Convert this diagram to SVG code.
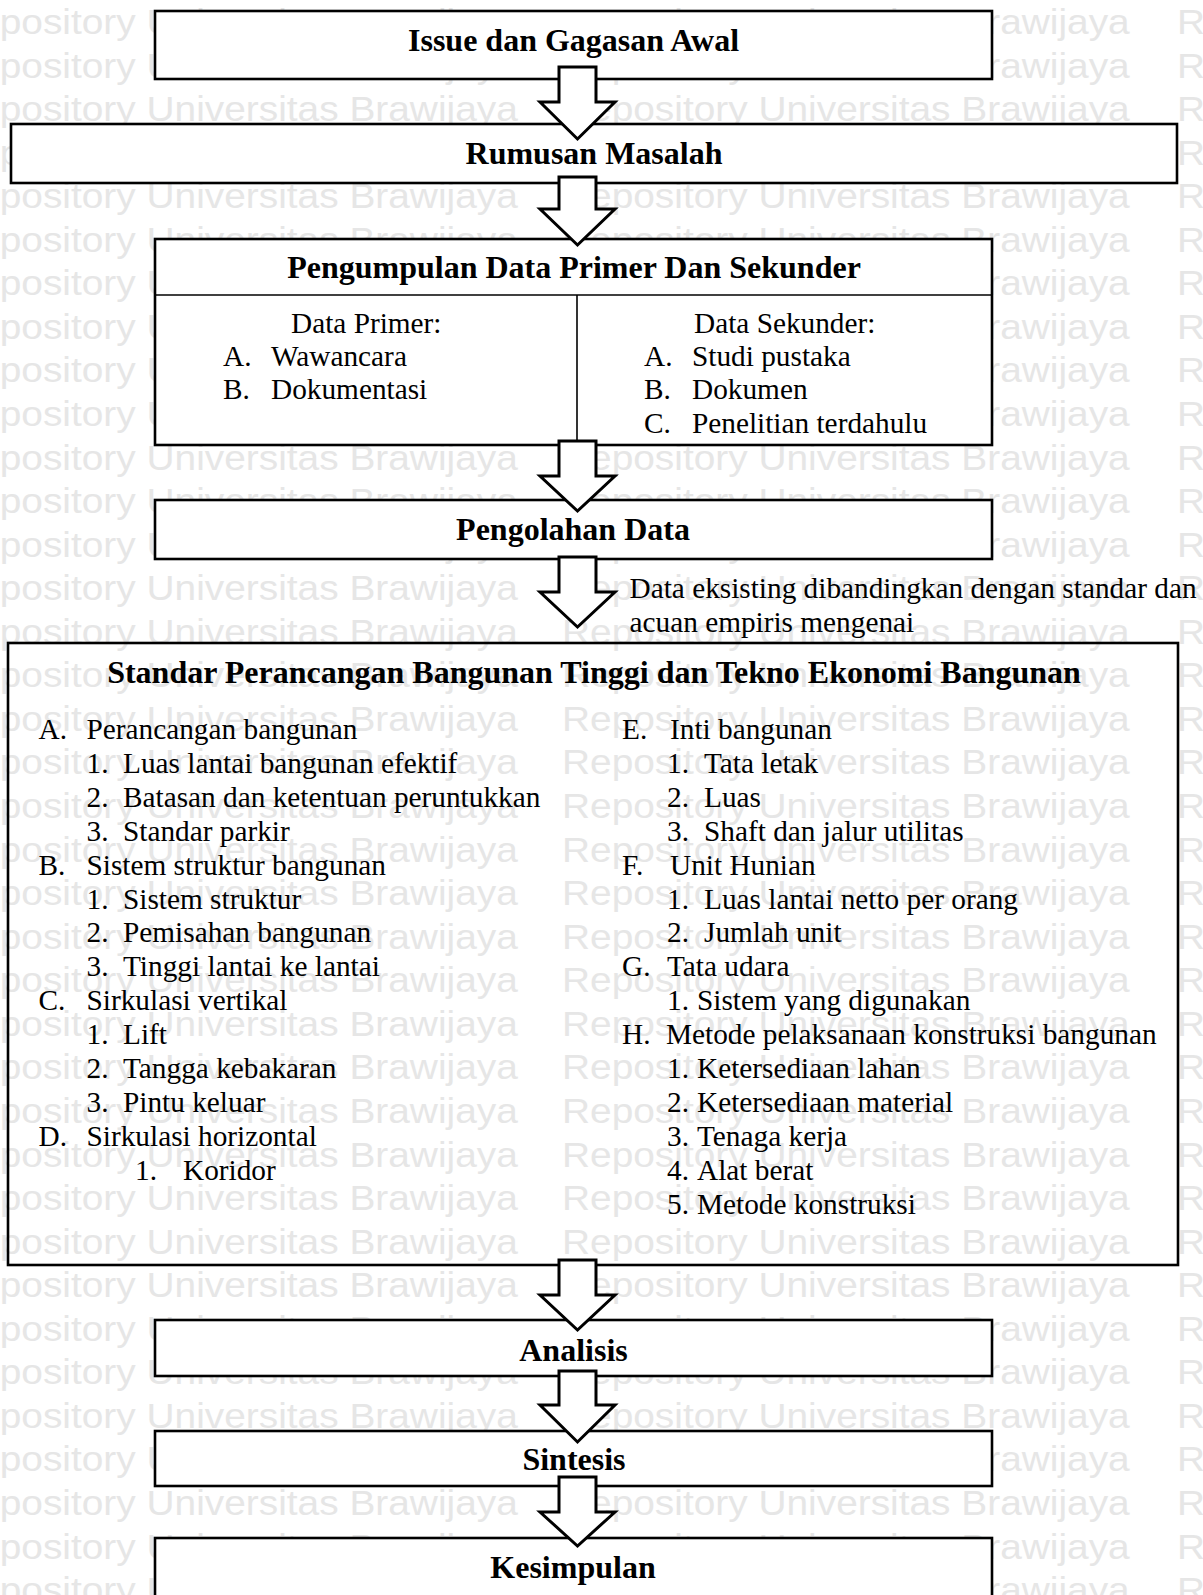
<svg xmlns="http://www.w3.org/2000/svg" width="1203" height="1595" viewBox="0 0 1203 1595">
<style>
.wm{fill:#e6e6e6;font-family:"Liberation Sans",Arial,sans-serif;font-size:35px}
.box{fill:#fff;stroke:#000;stroke-width:2.6}
.open{fill:none;stroke:#000;stroke-width:2.6}
.div{fill:none;stroke:#000;stroke-width:1.6}
.arr{fill:#fff;stroke:#000;stroke-width:3;stroke-linejoin:miter}
.h{font-family:"Liberation Serif","Times New Roman",serif;font-weight:bold;font-size:32px;text-anchor:middle;fill:#000}
.t{font-family:"Liberation Serif","Times New Roman",serif;font-size:29.3px;fill:#000}
</style>
<rect x="0" y="0" width="1203" height="1595" fill="#fff"/>
<g id="watermark" class="wm" transform="scale(1.11 1)">
<text y="34"><tspan x="-45">Repository Universitas Brawijaya</tspan><tspan x="506.3">Repository Universitas Brawijaya</tspan><tspan x="1060.4">Repository</tspan></text>
<text y="77.6"><tspan x="-45">Repository Universitas Brawijaya</tspan><tspan x="506.3">Repository Universitas Brawijaya</tspan><tspan x="1060.4">Repository</tspan></text>
<text y="121.1"><tspan x="-45">Repository Universitas Brawijaya</tspan><tspan x="506.3">Repository Universitas Brawijaya</tspan><tspan x="1060.4">Repository</tspan></text>
<text y="164.7"><tspan x="-45">Repository Universitas Brawijaya</tspan><tspan x="506.3">Repository Universitas Brawijaya</tspan><tspan x="1060.4">Repository</tspan></text>
<text y="208.2"><tspan x="-45">Repository Universitas Brawijaya</tspan><tspan x="506.3">Repository Universitas Brawijaya</tspan><tspan x="1060.4">Repository</tspan></text>
<text y="251.8"><tspan x="-45">Repository Universitas Brawijaya</tspan><tspan x="506.3">Repository Universitas Brawijaya</tspan><tspan x="1060.4">Repository</tspan></text>
<text y="295.4"><tspan x="-45">Repository Universitas Brawijaya</tspan><tspan x="506.3">Repository Universitas Brawijaya</tspan><tspan x="1060.4">Repository</tspan></text>
<text y="338.9"><tspan x="-45">Repository Universitas Brawijaya</tspan><tspan x="506.3">Repository Universitas Brawijaya</tspan><tspan x="1060.4">Repository</tspan></text>
<text y="382.5"><tspan x="-45">Repository Universitas Brawijaya</tspan><tspan x="506.3">Repository Universitas Brawijaya</tspan><tspan x="1060.4">Repository</tspan></text>
<text y="426"><tspan x="-45">Repository Universitas Brawijaya</tspan><tspan x="506.3">Repository Universitas Brawijaya</tspan><tspan x="1060.4">Repository</tspan></text>
<text y="469.6"><tspan x="-45">Repository Universitas Brawijaya</tspan><tspan x="506.3">Repository Universitas Brawijaya</tspan><tspan x="1060.4">Repository</tspan></text>
<text y="513.2"><tspan x="-45">Repository Universitas Brawijaya</tspan><tspan x="506.3">Repository Universitas Brawijaya</tspan><tspan x="1060.4">Repository</tspan></text>
<text y="556.7"><tspan x="-45">Repository Universitas Brawijaya</tspan><tspan x="506.3">Repository Universitas Brawijaya</tspan><tspan x="1060.4">Repository</tspan></text>
<text y="600.3"><tspan x="-45">Repository Universitas Brawijaya</tspan><tspan x="506.3">Repository Universitas Brawijaya</tspan><tspan x="1060.4">Repository</tspan></text>
<text y="643.8"><tspan x="-45">Repository Universitas Brawijaya</tspan><tspan x="506.3">Repository Universitas Brawijaya</tspan><tspan x="1060.4">Repository</tspan></text>
<text y="687.4"><tspan x="-45">Repository Universitas Brawijaya</tspan><tspan x="506.3">Repository Universitas Brawijaya</tspan><tspan x="1060.4">Repository</tspan></text>
<text y="731"><tspan x="-45">Repository Universitas Brawijaya</tspan><tspan x="506.3">Repository Universitas Brawijaya</tspan><tspan x="1060.4">Repository</tspan></text>
<text y="774.5"><tspan x="-45">Repository Universitas Brawijaya</tspan><tspan x="506.3">Repository Universitas Brawijaya</tspan><tspan x="1060.4">Repository</tspan></text>
<text y="818.1"><tspan x="-45">Repository Universitas Brawijaya</tspan><tspan x="506.3">Repository Universitas Brawijaya</tspan><tspan x="1060.4">Repository</tspan></text>
<text y="861.6"><tspan x="-45">Repository Universitas Brawijaya</tspan><tspan x="506.3">Repository Universitas Brawijaya</tspan><tspan x="1060.4">Repository</tspan></text>
<text y="905.2"><tspan x="-45">Repository Universitas Brawijaya</tspan><tspan x="506.3">Repository Universitas Brawijaya</tspan><tspan x="1060.4">Repository</tspan></text>
<text y="948.8"><tspan x="-45">Repository Universitas Brawijaya</tspan><tspan x="506.3">Repository Universitas Brawijaya</tspan><tspan x="1060.4">Repository</tspan></text>
<text y="992.3"><tspan x="-45">Repository Universitas Brawijaya</tspan><tspan x="506.3">Repository Universitas Brawijaya</tspan><tspan x="1060.4">Repository</tspan></text>
<text y="1035.9"><tspan x="-45">Repository Universitas Brawijaya</tspan><tspan x="506.3">Repository Universitas Brawijaya</tspan><tspan x="1060.4">Repository</tspan></text>
<text y="1079.4"><tspan x="-45">Repository Universitas Brawijaya</tspan><tspan x="506.3">Repository Universitas Brawijaya</tspan><tspan x="1060.4">Repository</tspan></text>
<text y="1123"><tspan x="-45">Repository Universitas Brawijaya</tspan><tspan x="506.3">Repository Universitas Brawijaya</tspan><tspan x="1060.4">Repository</tspan></text>
<text y="1166.6"><tspan x="-45">Repository Universitas Brawijaya</tspan><tspan x="506.3">Repository Universitas Brawijaya</tspan><tspan x="1060.4">Repository</tspan></text>
<text y="1210.1"><tspan x="-45">Repository Universitas Brawijaya</tspan><tspan x="506.3">Repository Universitas Brawijaya</tspan><tspan x="1060.4">Repository</tspan></text>
<text y="1253.7"><tspan x="-45">Repository Universitas Brawijaya</tspan><tspan x="506.3">Repository Universitas Brawijaya</tspan><tspan x="1060.4">Repository</tspan></text>
<text y="1297.2"><tspan x="-45">Repository Universitas Brawijaya</tspan><tspan x="506.3">Repository Universitas Brawijaya</tspan><tspan x="1060.4">Repository</tspan></text>
<text y="1340.8"><tspan x="-45">Repository Universitas Brawijaya</tspan><tspan x="506.3">Repository Universitas Brawijaya</tspan><tspan x="1060.4">Repository</tspan></text>
<text y="1384.4"><tspan x="-45">Repository Universitas Brawijaya</tspan><tspan x="506.3">Repository Universitas Brawijaya</tspan><tspan x="1060.4">Repository</tspan></text>
<text y="1427.9"><tspan x="-45">Repository Universitas Brawijaya</tspan><tspan x="506.3">Repository Universitas Brawijaya</tspan><tspan x="1060.4">Repository</tspan></text>
<text y="1471.5"><tspan x="-45">Repository Universitas Brawijaya</tspan><tspan x="506.3">Repository Universitas Brawijaya</tspan><tspan x="1060.4">Repository</tspan></text>
<text y="1515"><tspan x="-45">Repository Universitas Brawijaya</tspan><tspan x="506.3">Repository Universitas Brawijaya</tspan><tspan x="1060.4">Repository</tspan></text>
<text y="1558.6"><tspan x="-45">Repository Universitas Brawijaya</tspan><tspan x="506.3">Repository Universitas Brawijaya</tspan><tspan x="1060.4">Repository</tspan></text>
<text y="1602.2"><tspan x="-45">Repository Universitas Brawijaya</tspan><tspan x="506.3">Repository Universitas Brawijaya</tspan><tspan x="1060.4">Repository</tspan></text>
</g>

<g id="n1">
<rect class="box" x="155" y="11" width="837" height="68"/>
<text class="h" x="573.5" y="51">Issue dan Gagasan Awal</text>
</g>
<g id="n2">
<rect class="box" x="11" y="124" width="1166" height="59"/>
<text class="h" x="594" y="164">Rumusan Masalah</text>
</g>
<g id="n3">
<rect class="box" x="155" y="239" width="837" height="206"/>
<line class="div" x1="155" y1="295" x2="992" y2="295"/>
<line class="div" x1="577" y1="295" x2="577" y2="445"/>
<text class="h" x="574" y="278">Pengumpulan Data Primer Dan Sekunder</text>
<text class="t" x="291" y="333">Data Primer:</text>
<text class="t" x="223" y="366">A.</text><text class="t" x="271" y="366">Wawancara</text>
<text class="t" x="223" y="399">B.</text><text class="t" x="271" y="399">Dokumentasi</text>
<text class="t" x="694" y="333">Data Sekunder:</text>
<text class="t" x="644" y="366">A.</text><text class="t" x="692" y="366">Studi pustaka</text>
<text class="t" x="644" y="399">B.</text><text class="t" x="692" y="399">Dokumen</text>
<text class="t" x="644" y="433">C.</text><text class="t" x="692" y="433">Penelitian terdahulu</text>
</g>
<g id="n4">
<rect class="box" x="155" y="500" width="837" height="59"/>
<text class="h" x="573" y="540">Pengolahan Data</text>
</g>
<g id="n5">
<rect class="open" x="8" y="643" width="1170" height="622"/>
<text class="h" x="594" y="683">Standar Perancangan Bangunan Tinggi dan Tekno Ekonomi Bangunan</text>
<text class="t" x="38.5" y="739">A.</text><text class="t" x="86.5" y="739">Perancangan bangunan</text>
<text class="t" x="86.5" y="772.9">1.</text><text class="t" x="123" y="772.9">Luas lantai bangunan efektif</text>
<text class="t" x="86.5" y="806.8">2.</text><text class="t" x="123" y="806.8">Batasan dan ketentuan peruntukkan</text>
<text class="t" x="86.5" y="840.7">3.</text><text class="t" x="123" y="840.7">Standar parkir</text>
<text class="t" x="38.5" y="874.6">B.</text><text class="t" x="86.5" y="874.6">Sistem struktur bangunan</text>
<text class="t" x="86.5" y="908.5">1.</text><text class="t" x="123" y="908.5">Sistem struktur</text>
<text class="t" x="86.5" y="942.4">2.</text><text class="t" x="123" y="942.4">Pemisahan bangunan</text>
<text class="t" x="86.5" y="976.3">3.</text><text class="t" x="123" y="976.3">Tinggi lantai ke lantai</text>
<text class="t" x="38.5" y="1010.2">C.</text><text class="t" x="86.5" y="1010.2">Sirkulasi vertikal</text>
<text class="t" x="86.5" y="1044.1">1.</text><text class="t" x="123" y="1044.1">Lift</text>
<text class="t" x="86.5" y="1078">2.</text><text class="t" x="123" y="1078">Tangga kebakaran</text>
<text class="t" x="86.5" y="1111.9">3.</text><text class="t" x="123" y="1111.9">Pintu keluar</text>
<text class="t" x="38.5" y="1145.8">D.</text><text class="t" x="86.5" y="1145.8">Sirkulasi horizontal</text>
<text class="t" x="135" y="1179.7">1.</text><text class="t" x="183" y="1179.7">Koridor</text>
<text class="t" x="622" y="739">E.</text><text class="t" x="670" y="739">Inti bangunan</text>
<text class="t" x="667" y="772.9">1.</text><text class="t" x="704" y="772.9">Tata letak</text>
<text class="t" x="667" y="806.8">2.</text><text class="t" x="704" y="806.8">Luas</text>
<text class="t" x="667" y="840.7">3.</text><text class="t" x="704" y="840.7">Shaft dan jalur utilitas</text>
<text class="t" x="622" y="874.6">F.</text><text class="t" x="670" y="874.6">Unit Hunian</text>
<text class="t" x="667" y="908.5">1.</text><text class="t" x="704" y="908.5">Luas lantai netto per orang</text>
<text class="t" x="667" y="942.4">2.</text><text class="t" x="704" y="942.4">Jumlah unit</text>
<text class="t" x="622" y="976.3">G.</text><text class="t" x="667" y="976.3">Tata udara</text>
<text class="t" x="667" y="1010.2">1.</text><text class="t" x="697" y="1010.2">Sistem yang digunakan</text>
<text class="t" x="622" y="1044.1">H.</text><text class="t" x="666" y="1044.1">Metode pelaksanaan konstruksi bangunan</text>
<text class="t" x="667" y="1078">1.</text><text class="t" x="697" y="1078">Ketersediaan lahan</text>
<text class="t" x="667" y="1111.9">2.</text><text class="t" x="697" y="1111.9">Ketersediaan material</text>
<text class="t" x="667" y="1145.8">3.</text><text class="t" x="697" y="1145.8">Tenaga kerja</text>
<text class="t" x="667" y="1179.7">4.</text><text class="t" x="697" y="1179.7">Alat berat</text>
<text class="t" x="667" y="1213.6">5.</text><text class="t" x="697" y="1213.6">Metode konstruksi</text>
</g>
<g id="n6">
<rect class="box" x="155" y="1320" width="837" height="56"/>
<text class="h" x="573.5" y="1361">Analisis</text>
</g>
<g id="n7">
<rect class="box" x="155" y="1431" width="837" height="55"/>
<text class="h" x="574" y="1470">Sintesis</text>
</g>
<g id="n8">
<rect class="box" x="155" y="1538" width="837" height="80"/>
<text class="h" x="573" y="1578">Kesimpulan</text>
</g>

<g id="connectors">
<polygon class="arr" points="559,67 596,67 596,102 615,102 577.5,139 540,102 559,102"/>
<polygon class="arr" points="559,177 596,177 596,209 615,209 577.5,245 540,209 559,209"/>
<polygon class="arr" points="559,441 596,441 596,476 615,476 577.5,511 540,476 559,476"/>
<polygon class="arr" points="559,557 596,557 596,592 615,592 577.5,627 540,592 559,592"/>
<text class="t" x="629.5" y="598">Data eksisting dibandingkan dengan standar dan</text>
<text class="t" x="629.5" y="631.5">acuan empiris mengenai</text>
<polygon class="arr" points="559,1260 596,1260 596,1295 615,1295 577.5,1330 540,1295 559,1295"/>
<polygon class="arr" points="559,1371 596,1371 596,1405 615,1405 577.5,1442 540,1405 559,1405"/>
<polygon class="arr" points="559,1477 596,1477 596,1512 615,1512 577.5,1546 540,1512 559,1512"/>
</g>
</svg>
